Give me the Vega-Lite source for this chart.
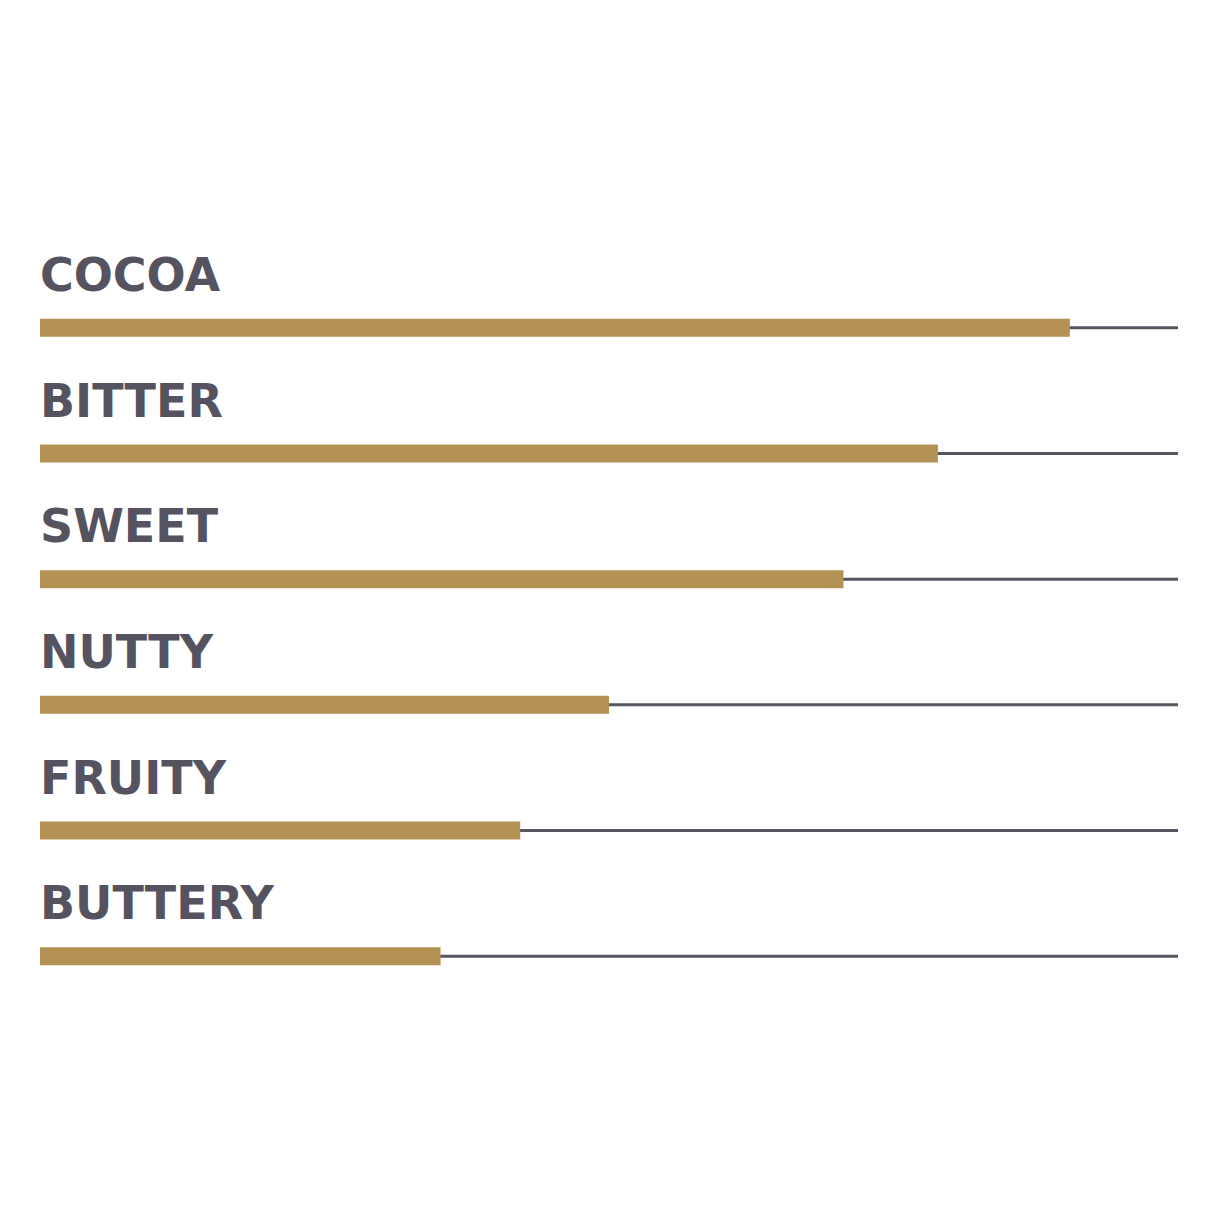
{
  "$schema": "https://vega.github.io/schema/vega-lite/v6.json",
  "autosize": {"type": "none"},
  "width": 1138,
  "height": 754,
  "padding": {"left": 40, "top": 265, "right": 36, "bottom": 195},
  "background": "#ffffff",
  "data": {
    "values": [
      {"note": "COCOA", "score": 90.5},
      {"note": "BITTER", "score": 78.9},
      {"note": "SWEET", "score": 70.6},
      {"note": "NUTTY", "score": 50},
      {"note": "FRUITY", "score": 42.2},
      {"note": "BUTTERY", "score": 35.2}
    ]
  },
  "encoding": {
    "y": {
      "field": "note",
      "type": "nominal",
      "sort": null,
      "scale": {"paddingInner": 0, "paddingOuter": 0},
      "axis": null
    }
  },
  "layer": [
    {
      "mark": {"type": "rule", "color": "#57555f", "strokeWidth": 3},
      "encoding": {
        "x": {"datum": 0, "type": "quantitative", "scale": {"domain": [0, 100]}, "axis": null},
        "x2": {"datum": 100}
      }
    },
    {
      "mark": {"type": "bar", "color": "#b39254", "height": 18, "cornerRadius": 0},
      "encoding": {
        "x": {"field": "score", "type": "quantitative", "scale": {"domain": [0, 100]}, "axis": null}
      }
    },
    {
      "mark": {
        "type": "text",
        "align": "left",
        "baseline": "alphabetic",
        "dy": -37,
        "font": "DejaVu Sans",
        "fontWeight": 600,
        "fontSize": 46,
        "letterSpacing": 6,
        "color": "#55535f"
      },
      "encoding": {
        "x": {"datum": 0, "type": "quantitative"},
        "text": {"field": "note"}
      }
    }
  ],
  "config": {"view": {"stroke": null}}
}
